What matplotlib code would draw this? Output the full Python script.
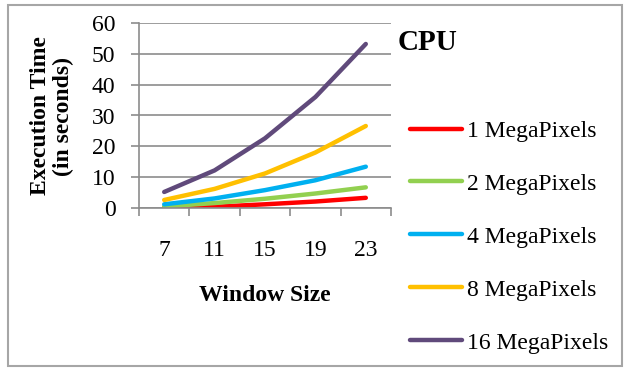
import numpy as np
import matplotlib.pyplot as plt
from matplotlib.patches import Rectangle

plt.rcParams['font.family'] = ['Liberation Serif', 'DejaVu Serif']

# data
window_sizes = ['7', '11', '15', '19', '23']
series_names = ['1 MegaPixels', '2 MegaPixels', '4 MegaPixels', '8 MegaPixels', '16 MegaPixels']
mp1 = [0.1, 0.4, 1.2, 2.1, 3.3]
mp2 = [0.5, 1.6, 3.0, 4.7, 6.7]
mp4 = [1.2, 3.1, 5.8, 9.0, 13.4]
mp8 = [2.6, 6.2, 11.2, 18.0, 26.6]
mp16 = [5.2, 12.2, 22.6, 36.0, 53.2]
series_colors = ['#FF0000', '#92D050', '#00B0F0', '#FFC000', '#604A7B']

fig = plt.figure(figsize=(6.24, 3.68), dpi=100)
ax = fig.add_axes([139 / 624, 1 - 208 / 368, 252 / 624, 185 / 368])

x = np.arange(len(window_sizes))
for vals, name, col in zip([mp1, mp2, mp4, mp8, mp16], series_names, series_colors):
    ax.plot(x, vals, color=col, linewidth=3.2, solid_capstyle='round', label=name)

grid_col = '#8c8c8c'
ax.set_xlim(-0.5, len(window_sizes) - 0.5)
ax.set_ylim(0, 60)
ax.set_yticks(np.arange(0, 61, 10))
ax.yaxis.grid(True, color=grid_col, linewidth=1.2)
ax.set_axisbelow(True)
for s in ['top', 'right']:
    ax.spines[s].set_visible(False)
ax.spines['left'].set_color(grid_col)
ax.spines['bottom'].set_color(grid_col)
ax.spines['left'].set_linewidth(1.2)
ax.spines['bottom'].set_linewidth(1.2)

# category boundary ticks, labels centred between them
ax.set_xticks(np.arange(-0.5, len(window_sizes), 1.0))
ax.set_xticklabels([])
ax.set_xticks(x, minor=True)
ax.set_xticklabels(window_sizes, minor=True)
ax.tick_params(axis='x', which='major', length=6, width=1.2, color=grid_col)
ax.tick_params(axis='x', which='minor', length=0, pad=23, labelsize=17)
ax.tick_params(axis='y', length=6, width=1.2, color=grid_col, labelsize=17, pad=11)

ax.set_xlabel('Window Size', fontsize=17, fontweight='bold', labelpad=17)
fig.text(52 / 624, 1 - 116 / 368, 'Execution Time\n(in seconds)', rotation=90,
         ha='center', va='center', fontsize=17, fontweight='bold', linespacing=1.12)
fig.text(398 / 624, 1 - 42 / 368, 'CPU', ha='left', va='center', fontsize=21, fontweight='bold')

leg = fig.legend(loc='upper left', bbox_to_anchor=(389 / 624, 1 - 99 / 368), frameon=False,
                 fontsize=17, handlelength=2.2, handletextpad=0.2, labelspacing=1.33)

# outer chart border
fig.patches.append(Rectangle((8 / 624, 1 - 366 / 368), 614 / 624, 361 / 368,
                             transform=fig.transFigure, fill=False,
                             edgecolor='#a6a6a6', linewidth=1.5))

fig.savefig('out.png', dpi=100)
